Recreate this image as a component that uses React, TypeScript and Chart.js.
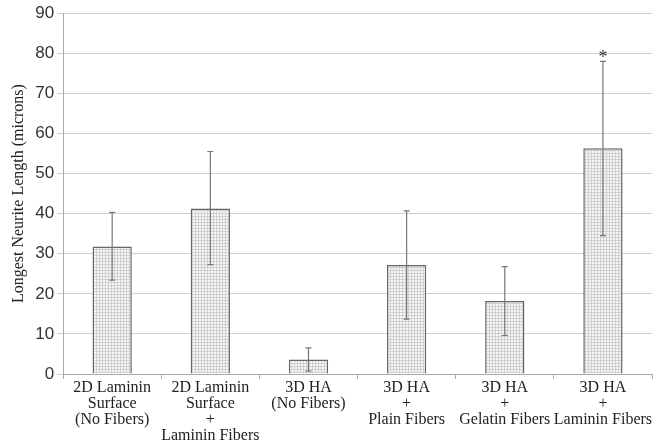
import React, { useEffect, useRef } from "react";
import { Chart, registerables } from "chart.js";

Chart.register(...registerables);

const categories: string[][] = [
  ["2D Laminin", "Surface", "(No Fibers)"],
  ["2D Laminin", "Surface", "+", "Laminin Fibers"],
  ["3D HA", "(No Fibers)"],
  ["3D HA", "+", "Plain Fibers"],
  ["3D HA", "+", "Gelatin Fibers"],
  ["3D HA", "+", "Laminin Fibers"],
];
const means = [31.8, 41.3, 3.6, 27.2, 18.2, 56.3];
const errLow = [23.4, 27.3, 0.7, 13.7, 9.6, 34.5];
const errHigh = [40.3, 55.5, 6.5, 40.7, 26.8, 78.0];
const marks = ["", "", "", "", "", "*"];
const yTicks = [0, 10, 20, 30, 40, 50, 60, 70, 80, 90];

function makePattern(): CanvasPattern | string {
  const c = document.createElement("canvas");
  c.width = 3;
  c.height = 3;
  const g = c.getContext("2d");
  if (!g) return "#eee";
  g.fillStyle = "#f7f7f7";
  g.fillRect(0, 0, 3, 3);
  g.fillStyle = "#cfcfcf";
  g.fillRect(0, 0, 3, 1);
  g.fillRect(0, 0, 1, 3);
  const p = g.createPattern(c, "repeat");
  return p || "#eee";
}

const errorBarPlugin = {
  id: "errorBars",
  afterDatasetsDraw(chart: any) {
    const ctx = chart.ctx;
    const y = chart.scales.y;
    const meta = chart.getDatasetMeta(0);
    ctx.save();
    ctx.strokeStyle = "#777";
    ctx.lineWidth = 1.2;
    meta.data.forEach((bar: any, i: number) => {
      const x = bar.x;
      const yl = y.getPixelForValue(errLow[i]);
      const yh = y.getPixelForValue(errHigh[i]);
      ctx.beginPath();
      ctx.moveTo(x, yl);
      ctx.lineTo(x, yh);
      ctx.moveTo(x - 3, yl);
      ctx.lineTo(x + 3, yl);
      ctx.moveTo(x - 3, yh);
      ctx.lineTo(x + 3, yh);
      ctx.stroke();
      if (marks[i]) {
        ctx.fillStyle = "#333";
        ctx.font = "18px 'Liberation Serif', serif";
        ctx.textAlign = "center";
        ctx.textBaseline = "bottom";
        ctx.fillText(marks[i], x, yh + 6);
      }
    });
    ctx.restore();
  },
};

export default function App() {
  const ref = useRef<HTMLCanvasElement>(null);
  useEffect(() => {
    if (!ref.current) return;
    const chart = new Chart(ref.current, {
      type: "bar",
      data: {
        labels: categories as any,
        datasets: [
          {
            data: means,
            backgroundColor: makePattern() as any,
            borderColor: "#666",
            borderWidth: 1.5,
            barPercentage: 0.4,
            categoryPercentage: 1.0,
          },
        ],
      },
      options: {
        animation: false,
        responsive: false,
        maintainAspectRatio: false,
        layout: { padding: { top: 6, right: 12, left: 9, bottom: 0 } },
        plugins: { legend: { display: false }, tooltip: { enabled: false } },
        scales: {
          x: {
            grid: {
              display: true,
              drawOnChartArea: false,
              tickLength: 5,
              color: "#aaa",
            },
            border: { color: "#aaa" },
            ticks: {
              color: "#222",
              font: { family: "'Liberation Serif', serif", size: 16, lineHeight: 1.0 },
              maxRotation: 0,
              autoSkip: false,
              padding: 1,
            },
          },
          y: {
            min: 0,
            max: 90,
            afterBuildTicks(scale: any) {
              scale.ticks = yTicks.map((v) => ({ value: v }));
            },
            grid: { color: "#cfcfcf", tickLength: 6, lineWidth: 1 },
            border: { color: "#aaa" },
            ticks: {
              color: "#333",
              font: { family: "'Liberation Sans', Arial, sans-serif", size: 17 },
              padding: 3,
            },
            title: {
              display: true,
              text: "Longest Neurite Length (microns)",
              color: "#222",
              font: { family: "'Liberation Serif', serif", size: 16 },
              padding: { top: 0, bottom: 4 },
            },
          },
        },
      },
      plugins: [errorBarPlugin],
    });
    return () => chart.destroy();
  }, []);
  return (
    <div style={{ position: "fixed", left: 0, top: 0, width: 664, height: 445, background: "#fff" }}>
      <canvas ref={ref} width={664} height={445} style={{ width: 664, height: 445 }} />
    </div>
  );
}
